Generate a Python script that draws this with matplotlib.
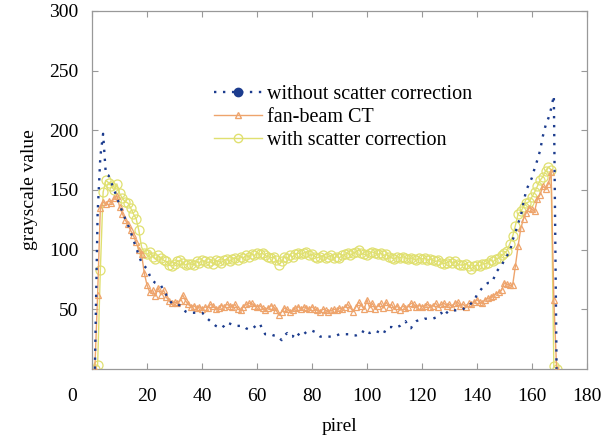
import numpy as np
import matplotlib.pyplot as plt
import matplotlib.transforms as mtransforms
from matplotlib.lines import Line2D

plt.rcParams['font.family'] = ['Liberation Serif', 'DejaVu Serif']

# pixel index along the profile
pixel = list(range(1, 170))

without_corr = [
    0, 130, 178, 197, 163, 162, 156, 150, 144, 137,
    132, 126, 121, 115, 108, 102, 95, 89, 86, 84,
    78, 74, 72, 71, 70, 66, 62, 58, 55, 55,
    54, 53, 51, 48, 47, 47, 47, 47, 47, 47,
    45, 42, 40, 38, 36, 35, 34, 36, 39, 38,
    37, 36, 36, 36, 36, 34, 33, 33, 35, 37,
    38, 33, 29, 29, 29, 28, 28, 26, 24, 28,
    30, 27, 27, 31, 29, 27, 29, 31, 31, 32,
    31, 29, 27, 27, 27, 27, 27, 27, 28, 29,
    29, 29, 29, 29, 28, 28, 29, 29, 33, 31,
    30, 31, 32, 31, 30, 29, 34, 35, 35, 34,
    35, 36, 38, 40, 36, 34, 38, 40, 41, 41,
    42, 42, 42, 42, 43, 45, 47, 44, 47, 49,
    49, 49, 49, 49, 50, 52, 53, 55, 57, 62,
    65, 68, 70, 72, 72, 75, 81, 84, 86, 92,
    95, 98, 108, 114, 122, 128, 140, 150, 155, 160,
    168, 175, 183, 195, 204, 210, 218, 229, 0,
]

fan_beam = [
    0, 62, 135, 140, 138, 141, 139, 143, 145, 136,
    130, 125, 121, 116, 112, 106, 100, 96, 80, 70,
    64, 66, 61, 68, 62, 66, 60, 57, 55, 56,
    55, 57, 62, 57, 54, 52, 53, 51, 52, 50,
    52, 51, 54, 53, 50, 51, 53, 52, 54, 53,
    52, 54, 50, 49, 52, 54, 55, 55, 53, 52,
    53, 51, 49, 51, 53, 52, 49, 45, 48, 51,
    50, 48, 49, 51, 52, 50, 52, 51, 50, 52,
    50, 49, 48, 50, 49, 48, 49, 50, 49, 51,
    50, 52, 54, 51, 48, 52, 56, 53, 50, 58,
    51, 55, 50, 53, 55, 51, 56, 52, 54, 50,
    53, 49, 53, 51, 52, 55, 54, 52, 53, 52,
    53, 54, 52, 53, 55, 52, 54, 55, 53, 54,
    52, 55, 56, 53, 54, 52, 55, 54, 56, 58,
    56, 55, 58, 59, 60, 61, 63, 64, 66, 72,
    71, 70, 70, 86, 103, 118, 126, 131, 135, 134,
    132, 142, 146, 153, 151, 155, 165, 58, 0,
]

with_corr = [
    0, 3, 83, 148, 158, 156, 153, 150, 155, 147,
    143, 140, 139, 135, 130, 126, 116, 102, 97, 96,
    98, 94, 92, 95, 93, 91, 90, 87, 86, 88,
    90, 91, 89, 87, 88, 88, 87, 90, 89, 91,
    90, 89, 90, 88, 91, 90, 89, 91, 92, 90,
    92, 93, 91, 94, 93, 95, 94, 96, 95, 97,
    96, 97, 95, 94, 93, 94, 91, 87, 90, 94,
    93, 95, 94, 96, 97, 96, 97, 98, 95, 96,
    94, 93, 94, 95, 93, 94, 95, 93, 94, 93,
    95, 96, 97, 95, 97, 98, 100, 97, 96, 95,
    97, 98, 97, 96, 97, 95, 96, 94, 93, 92,
    94, 93, 94, 93, 92, 93, 92, 91, 93, 92,
    93, 91, 92, 91, 90, 91, 89, 88, 89, 90,
    89, 90, 88, 87, 87, 88, 86, 84, 86, 87,
    86, 88, 88, 89, 91, 90, 92, 93, 95, 97,
    99, 105, 111, 120, 130, 132, 136, 139, 140, 144,
    148, 153, 158, 161, 166, 169, 167, 2, 0,
]

blue = '#1c3c8e'
orange = '#eea46c'
yellow = '#e0e070'
dots = (0, (1, 2.8))

fig = plt.figure(figsize=(6.1, 4.37), dpi=100)
ax = fig.add_axes([0.151, 0.156, 0.811, 0.819])

ax.plot(pixel, with_corr, color=yellow, lw=1.0, marker='o', ms=6.5,
        mfc='none', mec=yellow, mew=0.9, zorder=2)
ax.plot(pixel, fan_beam, color=orange, lw=1.0, marker='^', ms=4,
        mfc='none', mec=orange, mew=0.9, zorder=3)
ax.plot(pixel, without_corr, color=blue, lw=1.7, ls=dots, zorder=4)

ax.set_xlim(0, 180)
ax.set_ylim(0, 300)
ax.set_xticks(range(0, 181, 20))
ax.set_yticks(range(50, 301, 50))

ax.tick_params(direction='in', length=4, color='#999999', labelsize=14,
               top=True, right=True, pad=14)
ax.tick_params(axis='y', pad=10)
for s in ax.spines.values():
    s.set_color('#999999')
    s.set_linewidth(0.9)

# the "0" on the x axis sits to the left of the origin
offset = mtransforms.ScaledTranslation(-20 / 100, 0, fig.dpi_scale_trans)
lbl0 = ax.get_xticklabels()[0]
lbl0.set_transform(lbl0.get_transform() + offset)

ax.set_xlabel('pirel', fontsize=14, labelpad=9)
ax.set_ylabel('grayscale value', fontsize=14, labelpad=8)

handles = [
    Line2D([], [], color=blue, lw=1.7, ls=dots, marker='o', ms=6,
           mfc=blue, mec=blue),
    Line2D([], [], color=orange, lw=1.0, marker='^', ms=4,
           mfc='none', mec=orange),
    Line2D([], [], color=yellow, lw=1.0, marker='o', ms=6,
           mfc='none', mec=yellow),
]
labels = ['without scatter correction', 'fan-beam CT', 'with scatter correction']
ax.legend(handles, labels, loc='upper left', bbox_to_anchor=(214 / 610, 1 - 85 / 437),
          bbox_transform=fig.transFigure, frameon=False, fontsize=14.5,
          handlelength=2.4, handletextpad=0.25, labelspacing=0.2,
          borderpad=0, borderaxespad=0, numpoints=1)

fig.savefig('out.png', dpi=100)
